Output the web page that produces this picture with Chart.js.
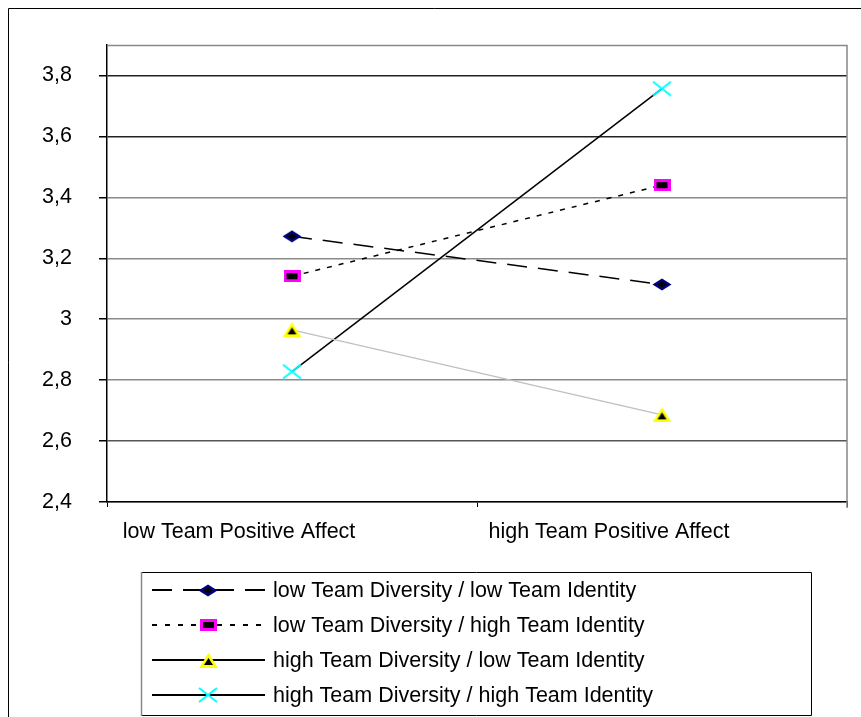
<!DOCTYPE html>
<html>
<head>
<meta charset="utf-8">
<script src="https://cdn.jsdelivr.net/npm/chart.js@4/dist/chart.umd.min.js"></script>
<style>
  html, body { margin: 0; padding: 0; background: #fff; }
  canvas { display: block; }
</style>
</head>
<body>
<canvas id="c" width="861" height="717"></canvas>
<script>
// Categories on the x axis
const categories = ['low Team Positive Affect', 'high Team Positive Affect'];

// Series names
const seriesNames = [
  'low Team Diversity / low Team Identity',
  'low Team Diversity / high Team Identity',
  'high Team Diversity / low Team Identity',
  'high Team Diversity / high Team Identity'
];

// Series values (low PA, high PA)
const lowDivLowId = [3.272, 3.114];
const lowDivHighId = [3.141, 3.440];
const highDivLowId = [2.965, 2.686];
const highDivHighId = [2.828, 3.757];

// Value axis range and ticks
const yMin = 2.4;
const yMax = 3.9;
const yStep = 0.2;
const yTickLast = 3.8;

const FONT = '"Liberation Sans", Arial, sans-serif';
const FONT_SIZE = 21.5;

// ---- marker images ----
function makeCanvas(w, h, draw) {
  const c = document.createElement('canvas');
  c.width = w; c.height = h;
  draw(c.getContext('2d'), w, h);
  return c;
}
const diamondImg = makeCanvas(20, 13, (g, w, h) => {
  g.beginPath();
  g.moveTo(0.5, h / 2); g.lineTo(w / 2, 0.5); g.lineTo(w - 0.5, h / 2); g.lineTo(w / 2, h - 0.5); g.closePath();
  g.fillStyle = '#000080'; g.fill();
  g.beginPath();
  g.moveTo(5, h / 2); g.lineTo(w / 2, 3.5); g.lineTo(w - 5, h / 2); g.lineTo(w / 2, h - 3.5); g.closePath();
  g.fillStyle = '#000'; g.fill();
});
const squareImg = makeCanvas(17, 12, (g, w, h) => {
  g.fillStyle = '#ff00ff'; g.fillRect(0, 0, w, h);
  g.fillStyle = '#000'; g.fillRect(3, 3, w - 6, h - 6);
});
const triangleImg = makeCanvas(19, 15, (g, w, h) => {
  g.beginPath();
  g.moveTo(w / 2, 0); g.lineTo(w, h); g.lineTo(0, h); g.closePath();
  g.fillStyle = '#ffff00'; g.fill();
  g.beginPath();
  g.moveTo(w / 2, 5); g.lineTo(w - 5, h - 3); g.lineTo(5, h - 3); g.closePath();
  g.fillStyle = '#000'; g.fill();
});
const crossImg = makeCanvas(20, 16, (g, w, h) => {
  g.strokeStyle = '#00ffff'; g.lineWidth = 2;
  g.beginPath();
  g.moveTo(1, 1); g.lineTo(w - 1, h - 1);
  g.moveTo(w - 1, 1); g.lineTo(1, h - 1);
  g.stroke();
});

const legendDash = [[20, 11], [5, 8], [], []];

// ---- frame, plot border and legend ----
const framePlugin = {
  id: 'frame',
  beforeDraw(chart) {
    const g = chart.ctx;
    g.save();
    g.fillStyle = '#fff';
    g.fillRect(0, 0, chart.width, chart.height);
    g.strokeStyle = '#000';
    g.lineWidth = 1;
    g.beginPath();
    g.moveTo(8.5, chart.height); g.lineTo(8.5, 8.5); g.lineTo(chart.width, 8.5);
    g.stroke();
    g.restore();
  },
  afterDatasetsDraw(chart) {
    const g = chart.ctx;
    const a = chart.chartArea;
    g.save();
    g.strokeStyle = '#888';
    g.lineWidth = 1.5;
    g.beginPath();
    g.moveTo(a.left, a.top + 0.5); g.lineTo(a.right, a.top + 0.5); g.lineTo(a.right, a.bottom + 6);
    g.stroke();
    g.restore();
  },
  afterDraw(chart) {
    const g = chart.ctx;
    g.save();
    // legend box
    g.lineWidth = 1;
    g.strokeStyle = '#000';
    g.beginPath();
    g.moveTo(141.5, 572.5); g.lineTo(811.5, 572.5); g.lineTo(811.5, 715.5); g.lineTo(141.5, 715.5);
    g.stroke();
    g.strokeStyle = '#888';
    g.lineWidth = 1.5;
    g.beginPath();
    g.moveTo(141.5, 572); g.lineTo(141.5, 716);
    g.stroke();
    const rows = [590, 625, 660, 695];
    chart.data.datasets.forEach((ds, i) => {
      const y = rows[i];
      g.strokeStyle = '#000';
      g.lineWidth = 2;
      g.setLineDash(legendDash[i]);
      g.beginPath();
      g.moveTo(152, y); g.lineTo(265, y);
      g.stroke();
      g.setLineDash([]);
      const img = ds.pointStyle;
      g.drawImage(img, Math.round(208 - img.width / 2), Math.round(y - img.height / 2));
      g.fillStyle = '#000';
      g.font = FONT_SIZE + 'px ' + FONT;
      g.textBaseline = 'middle';
      g.textAlign = 'left';
      g.fillText(ds.label, 273, y + 1);
    });
    g.restore();
  }
};

function fmt(v) {
  return String(Number(v.toFixed(1))).replace('.', ',');
}

new Chart(document.getElementById('c'), {
  type: 'line',
  data: {
    labels: categories,
    datasets: [
      { label: seriesNames[0], data: lowDivLowId, borderColor: '#000', borderWidth: 1.5, borderDash: [20, 11], pointStyle: diamondImg },
      { label: seriesNames[1], data: lowDivHighId, borderColor: '#000', borderWidth: 1.5, borderDash: [5, 7], pointStyle: squareImg },
      { label: seriesNames[2], data: highDivLowId, borderColor: '#c0c0c0', borderWidth: 1.5, pointStyle: triangleImg },
      { label: seriesNames[3], data: highDivHighId, borderColor: '#000', borderWidth: 1.5, pointStyle: crossImg }
    ]
  },
  options: {
    responsive: false,
    animation: false,
    layout: { padding: { top: 45, right: 14, left: 0, bottom: 0 } },
    elements: { line: { tension: 0, fill: false }, point: { radius: 8, hoverRadius: 8 } },
    plugins: { legend: { display: false }, tooltip: { enabled: false } },
    scales: {
      x: {
        type: 'category',
        offset: true,
        grid: { offset: true, drawOnChartArea: false, tickLength: 5, tickColor: '#000', color: '#000' },
        border: { color: '#000', width: 1.5 },
        ticks: { font: { family: FONT, size: FONT_SIZE }, color: '#000', labelOffset: -53, padding: 12, maxRotation: 0 },
        afterFit(scale) { scale.height = 717 - 502; }
      },
      y: {
        min: yMin,
        max: yMax,
        afterBuildTicks(scale) {
          scale.ticks = scale.ticks.filter(t => t.value <= yTickLast + 1e-9);
        },
        ticks: { stepSize: yStep, font: { family: FONT, size: FONT_SIZE }, color: '#000', padding: 27, callback: v => fmt(v) },
        grid: {
          tickLength: 8,
          tickColor: '#000',
          lineWidth: 1.5,
          color: ctx => {
            const v = ctx.tick ? ctx.tick.value : 0;
            if (v >= 3.55) return '#222';
            if (v < 2.7 && v > 2.5) return '#555';
            return '#8a8a8a';
          }
        },
        border: { color: '#000', width: 1.5 },
        afterFit(scale) { scale.width = 107; }
      }
    }
  },
  plugins: [framePlugin]
});
</script>
</body>
</html>
